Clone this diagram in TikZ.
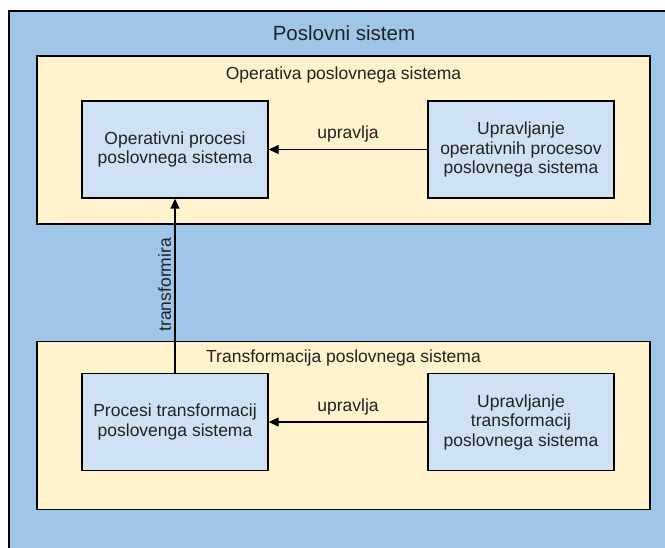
\documentclass[tikz,border=0pt]{standalone}
\usepackage{fontspec}
\setmainfont{Liberation Sans}
\usetikzlibrary{
  arrows.meta,
  positioning,
}

\definecolor{sysblue}{HTML}{9FC5E8}
\definecolor{layeryellow}{HTML}{FFF2CC}
\definecolor{procblue}{HTML}{CFE2F3}
\definecolor{inktext}{HTML}{222222}

\tikzset{
  layer/.style={draw=black, line width=1.4pt, fill=layeryellow,
    minimum width=613pt, minimum height=168pt},
  proc/.style={draw=black, line width=1.4pt, fill=procblue,
    minimum width=186pt, minimum height=97pt, align=center,
    text=inktext, font=\fontsize{17.5}{19.5}\selectfont},
  caption/.style={text=inktext, font=\fontsize{17.5}{20}\selectfont},
  ctrl/.style={line width=1.4pt, -{Triangle[length=10pt,width=9pt]}},
}

\begin{document}
\begin{tikzpicture}[x=1pt,y=-1pt]
\useasboundingbox (0,0) rectangle (665,548);
\clip (0,0) rectangle (665,548);
% whole system
\draw[line width=1.4pt, fill=sysblue] (9,11) rectangle (690,570);
\node[text=inktext, font=\fontsize{20.5}{24}\selectfont] (sys) at (344,33) {Poslovni sistem};

% operative layer
\node[layer] (oper) at (343.5,140) {};
\node[caption] (opertitle) at (343.5,75) {Operativa poslovnega sistema};
\node[proc] (operproc) at (175,149.5) {Operativni procesi\\poslovnega sistema};
\node[proc] (opermgmt) at (521,149.5) {Upravljanje\\operativnih procesov\\poslovnega sistema};

% transformation layer
\node[layer] (trans) at (343.5,425.5) {};
\node[caption] (transtitle) at (343.5,358) {Transformacija poslovnega sistema};
\node[proc] (transproc) at (175,422) {Procesi transformacij\\poslovenga sistema};
\node[proc] (transmgmt) at (521,422) {Upravljanje\\transformacij\\poslovnega sistema};

% connectors
\draw[ctrl] (opermgmt) -- node[caption, above=3pt] (upr1) {upravlja} (operproc);
\draw[ctrl] (transmgmt) -- node[caption, above=3pt] (upr2) {upravlja} (transproc);
\draw[ctrl] (transproc) -- node[caption, rotate=90, above=1pt] (trf) {transformira} (operproc);
\end{tikzpicture}
\end{document}
